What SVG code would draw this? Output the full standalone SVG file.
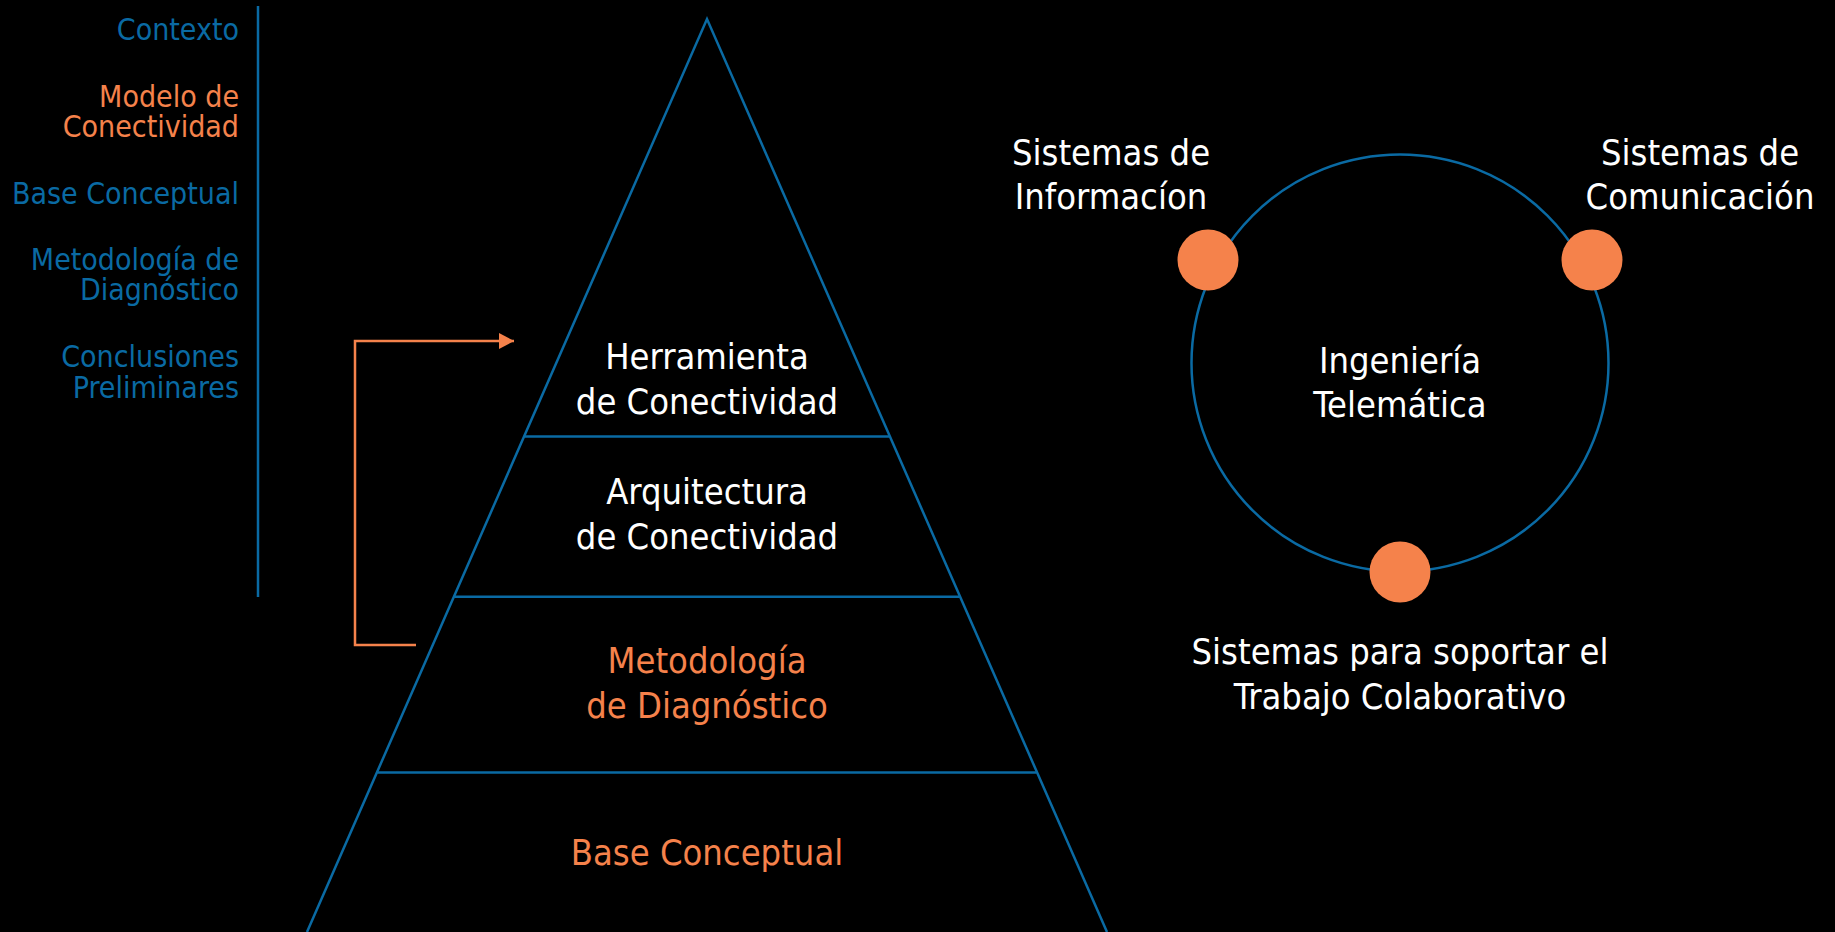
<svg xmlns="http://www.w3.org/2000/svg" width="1835" height="932" viewBox="0 0 1835 932">
<style>
  text { font-family: "DejaVu Sans Condensed", "DejaVu Sans", sans-serif; font-stretch: condensed; }
  .nav { font-size: 30px; text-anchor: end; }
  .big { font-size: 36px; text-anchor: middle; }
  .blue { fill: #0A6AA3; }
  .orange { fill: #F5824B; }
  .white { fill: #FFFFFF; }
  .bl { stroke: #0A6AA3; stroke-width: 2.5; fill: none; }
  .or { stroke: #F5824B; stroke-width: 2.5; fill: none; }
  .dot { fill: #F5824B; }
</style>
<defs>
  <marker id="arr" markerWidth="15" markerHeight="16" refX="15" refY="8" orient="auto" markerUnits="userSpaceOnUse" viewBox="0 0 15 16">
    <path d="M0,0 L15,8 L0,16 Z" fill="#F5824B"/>
  </marker>
</defs>
<rect x="0" y="0" width="1835" height="932" fill="#000000"/>

<g id="nav">
  <text class="nav blue" x="239" y="40">Contexto</text>
  <text class="nav orange" x="239" y="107">Modelo de</text>
  <text class="nav orange" x="239" y="137">Conectividad</text>
  <text class="nav blue" x="239" y="204">Base Conceptual</text>
  <text class="nav blue" x="239" y="270">Metodología de</text>
  <text class="nav blue" x="239" y="300">Diagnóstico</text>
  <text class="nav blue" x="239" y="367">Conclusiones</text>
  <text class="nav blue" x="239" y="398">Preliminares</text>
  <line class="bl" x1="258" y1="6" x2="258" y2="597"/>
</g>

<g id="pyramid">
  <path class="bl" d="M307,932 L707,19 L1107,932"/>
  <g id="level-herramienta">
    <line class="bl" x1="524.5" y1="436.5" x2="889.5" y2="436.5"/>
    <text class="big white" x="707" y="369">Herramienta</text>
    <text class="big white" x="707" y="414">de Conectividad</text>
  </g>
  <g id="level-arquitectura">
    <line class="bl" x1="454.5" y1="596.8" x2="959.5" y2="596.8"/>
    <text class="big white" x="707" y="504">Arquitectura</text>
    <text class="big white" x="707" y="549">de Conectividad</text>
  </g>
  <g id="level-metodologia">
    <line class="bl" x1="377.5" y1="772.6" x2="1036.5" y2="772.6"/>
    <text class="big orange" x="707" y="673">Metodología</text>
    <text class="big orange" x="707" y="718">de Diagnóstico</text>
  </g>
  <g id="level-base">
    <text class="big orange" x="707" y="865">Base Conceptual</text>
  </g>
</g>

<g id="connectors">
  <path class="or" d="M416,645 H355 V341 H514" marker-end="url(#arr)"/>
</g>

<g id="telematica">
  <circle class="bl" cx="1400" cy="363" r="208.5"/>
  <text class="big white" x="1400" y="373">Ingeniería</text>
  <text class="big white" x="1400" y="417">Telemática</text>
</g>
<g id="sistemas-informacion">
  <circle class="dot" cx="1208" cy="260" r="30.5"/>
  <text class="big white" x="1111" y="165">Sistemas de</text>
  <text class="big white" x="1111" y="209">Informacíon</text>
</g>
<g id="sistemas-comunicacion">
  <circle class="dot" cx="1592" cy="260" r="30.5"/>
  <text class="big white" x="1700" y="165">Sistemas de</text>
  <text class="big white" x="1700" y="209">Comunicación</text>
</g>
<g id="sistemas-colaborativo">
  <circle class="dot" cx="1400" cy="572" r="30.5"/>
  <text class="big white" x="1400" y="664">Sistemas para soportar el</text>
  <text class="big white" x="1400" y="709">Trabajo Colaborativo</text>
</g>
</svg>
